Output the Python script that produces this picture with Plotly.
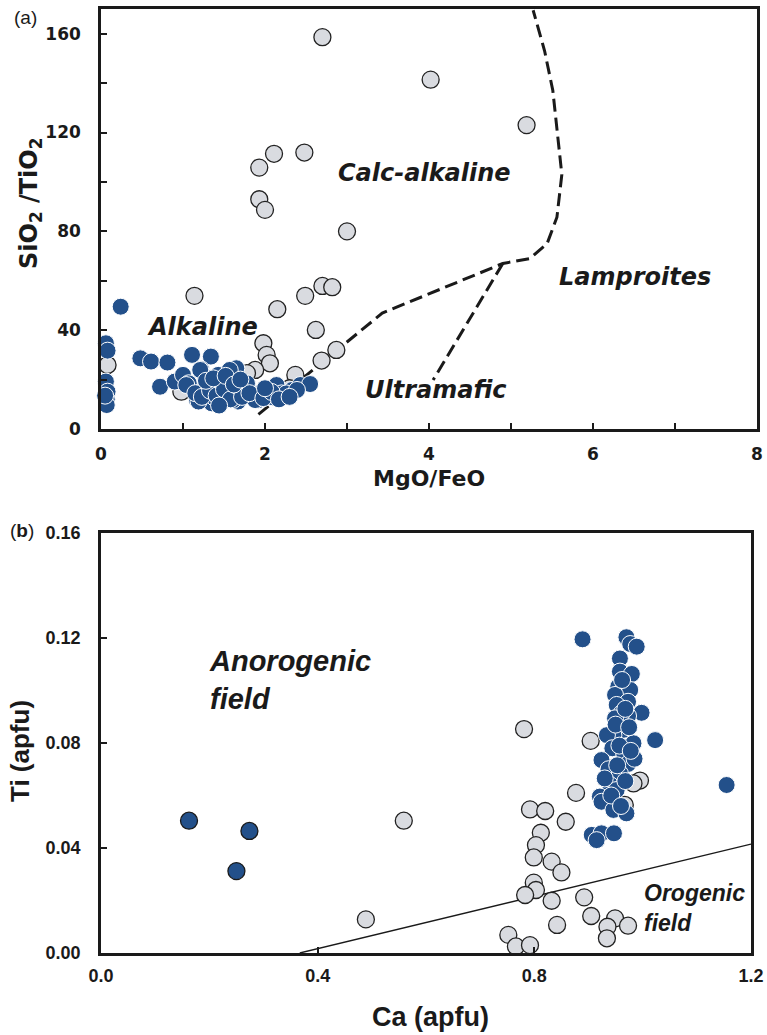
import plotly.graph_objects as go

W, H = 767, 1035

# ---------------- Panel (a) data ----------------
a_gray_x = [2.70, 4.02, 5.19, 2.11, 2.48, 1.93, 1.93, 2.00, 3.00, 1.14, 2.49, 2.15, 2.70, 2.82,
            2.62, 1.98, 2.02, 2.06, 2.87, 2.69, 1.88, 1.78, 2.37, 0.08, 0.98, 1.40, 1.60, 2.30]
a_gray_y = [158.6, 141.4, 123.0, 111.4, 111.9, 105.8, 93.0, 88.7, 80.0, 53.9, 53.9, 48.5, 57.9, 57.4,
            40.1, 34.7, 30.0, 26.6, 32.0, 27.7, 23.9, 22.6, 21.9, 25.9, 15.1, 14.0, 20.0, 16.5]

a_blue_x = [0.24, 0.06, 0.08, 0.06, 0.08, 0.07, 0.07, 0.05,
            0.48, 0.61, 0.81, 0.72, 0.90, 1.11, 1.34, 1.22, 1.65, 1.00, 1.07, 1.43, 1.25, 1.45,
            1.55, 1.17, 1.35, 1.53, 1.74, 1.67, 1.84, 1.96, 1.92, 2.04, 2.14, 2.20, 2.33, 2.43, 2.55,
            1.19, 1.30, 1.39, 1.60, 1.27, 1.57, 1.78, 1.61, 1.88, 2.26, 2.39, 1.04, 1.21, 1.47, 2.10,
            1.15, 1.23, 1.33, 1.41, 1.50, 1.58, 1.66, 1.72, 1.81, 1.98, 2.08, 2.17, 1.28, 1.37, 1.52,
            1.62, 1.70, 1.44, 2.30, 2.00]
a_blue_y = [49.5, 34.7, 31.7, 19.2, 15.1, 12.0, 9.7, 13.5,
            28.6, 27.3, 26.9, 17.1, 19.2, 30.0, 29.3, 24.2, 24.6, 21.9, 18.5, 21.9, 15.8, 17.1,
            19.8, 11.7, 10.4, 11.7, 15.8, 11.1, 13.1, 15.1, 11.7, 13.8, 17.8, 14.4, 15.8, 17.8, 18.2,
            11.1, 18.0, 12.5, 14.0, 21.2, 23.9, 18.5, 11.7, 11.7, 14.4, 15.8, 17.8, 23.9, 15.0, 12.8,
            14.5, 13.0, 15.5, 13.5, 16.0, 12.0, 17.5, 13.0, 14.5, 12.5, 15.0, 12.0, 19.5, 20.5, 21.5,
            18.0, 20.0, 9.5, 13.0, 16.5]

# boundary lines (a)
a_main_x = [1.92, 3.43, 4.90, 5.23, 5.44, 5.56, 5.62, 5.57, 5.51, 5.41, 5.27]
a_main_y = [5.9, 46.9, 67.0, 69.0, 75.0, 85.7, 103.0, 119.6, 137.0, 153.0, 169.5]
a_ultra_x = [4.90, 4.05]
a_ultra_y = [67.0, 19.8]

# ---------------- Panel (b) data ----------------
b_gray_x = [0.781, 0.904, 0.995, 0.983, 0.877, 0.792, 0.820, 0.858, 0.812, 0.803, 0.799, 0.832,
            0.850, 0.799, 0.803, 0.783, 0.832, 0.892, 0.905, 0.842, 0.949, 0.935, 0.973, 0.934,
            0.752, 0.766, 0.792, 0.967, 0.559, 0.489]
b_gray_y = [0.0853, 0.0808, 0.0657, 0.0646, 0.0610, 0.0547, 0.0541, 0.0500, 0.0458, 0.0411, 0.0364, 0.0348,
            0.0307, 0.0268, 0.0240, 0.0221, 0.0199, 0.0212, 0.0141, 0.0107, 0.0132, 0.0100, 0.0104, 0.0056,
            0.0069, 0.0025, 0.0030, 0.0564, 0.0504, 0.0128]

b_blue_x = [0.889, 0.970, 0.977, 0.989, 0.958, 0.958, 0.980, 0.955, 0.977, 0.949, 0.973, 0.952,
            0.998, 0.973, 0.961, 0.949, 0.964, 0.946, 0.934, 1.023, 0.983, 0.944, 0.966, 0.924,
            0.973, 0.937, 0.958, 0.940, 1.155, 0.952, 0.921, 0.924, 0.946, 0.970, 0.906, 0.924,
            0.947, 0.915,
            0.962, 0.968, 0.950, 0.975, 0.957, 0.985, 0.953, 0.930, 0.968, 0.942, 0.960, 0.978]
b_blue_y = [0.1195, 0.1203, 0.1177, 0.1167, 0.1122, 0.1072, 0.1063, 0.1015, 0.1002, 0.0983, 0.0957, 0.0945,
            0.0915, 0.0903, 0.0913, 0.0894, 0.0850, 0.0830, 0.0830, 0.0811, 0.0799, 0.0780, 0.0758, 0.0735,
            0.0720, 0.0700, 0.0684, 0.0640, 0.0640, 0.0621, 0.0596, 0.0576, 0.0545, 0.0532, 0.0450, 0.0456,
            0.0456, 0.0430,
            0.1040, 0.0930, 0.0870, 0.0860, 0.0790, 0.0740, 0.0715, 0.0665, 0.0655, 0.0600, 0.0560, 0.0770]

b_blue2_x = [0.1625, 0.274, 0.250]
b_blue2_y = [0.0504, 0.0465, 0.0312]

b_line_x = [0.367, 1.2]
b_line_y = [0.0, 0.0415]

GRAY = "#d9dbe0"
BLUE = "#23508a"
INK = "#1a1a1a"
FA = "DejaVu Sans, Verdana, sans-serif"          # panel (a) text (wide)
FB = "Liberation Sans, Arial, sans-serif"        # panel (b) text
MS = 17

fig = go.Figure()

# panel a
fig.add_trace(go.Scatter(x=a_main_x, y=a_main_y, mode="lines", xaxis="x", yaxis="y",
                         line=dict(color=INK, width=3, dash="13px,6px"), hoverinfo="skip"))
fig.add_trace(go.Scatter(x=a_ultra_x, y=a_ultra_y, mode="lines", xaxis="x", yaxis="y",
                         line=dict(color=INK, width=3, dash="13px,6px"), hoverinfo="skip"))
fig.add_trace(go.Scatter(x=a_gray_x, y=a_gray_y, mode="markers", xaxis="x", yaxis="y",
                         marker=dict(size=MS, color=GRAY, line=dict(color="#222", width=1.3))))
fig.add_trace(go.Scatter(x=a_blue_x, y=a_blue_y, mode="markers", xaxis="x", yaxis="y",
                         marker=dict(size=MS, color=BLUE, line=dict(color="white", width=1))))

# panel b
fig.add_trace(go.Scatter(x=b_line_x, y=b_line_y, mode="lines", xaxis="x2", yaxis="y2",
                         line=dict(color=INK, width=1.4), hoverinfo="skip"))
fig.add_trace(go.Scatter(x=b_gray_x, y=b_gray_y, mode="markers", xaxis="x2", yaxis="y2",
                         marker=dict(size=MS, color=GRAY, line=dict(color="#222", width=1.3))))
fig.add_trace(go.Scatter(x=b_blue_x, y=b_blue_y, mode="markers", xaxis="x2", yaxis="y2",
                         marker=dict(size=MS, color=BLUE, line=dict(color="white", width=1))))
fig.add_trace(go.Scatter(x=b_blue2_x, y=b_blue2_y, mode="markers", xaxis="x2", yaxis="y2",
                         marker=dict(size=MS, color=BLUE, line=dict(color=INK, width=1.3))))

for tr in fig.data:
    tr.cliponaxis = False


def axis(font_family, size):
    return dict(showline=True, linecolor=INK, linewidth=2.5, mirror=True, showgrid=False,
                zeroline=False, ticks="inside", ticklen=6, tickwidth=2, tickcolor=INK,
                automargin=False,
                tickfont=dict(family=font_family, size=size, color=INK, weight="bold"))


minor_a = dict(ticks="inside", ticklen=6, tickwidth=2, tickcolor=INK)

fig.update_layout(
    template="none",
    width=W, height=H, margin=dict(l=0, r=0, t=0, b=0, autoexpand=False),
    paper_bgcolor="white", plot_bgcolor="white", showlegend=False,
    xaxis=dict(domain=[101 / W, 757 / W], anchor="y", range=[0, 8], tickvals=[0, 2, 4, 6, 8],
               minor=dict(tickvals=[1, 3, 5, 7], **minor_a),
               ticklabelstandoff=8, **axis(FA, 17)),
    yaxis=dict(domain=[1 - 429 / H, 1 - 9 / H], anchor="x", range=[0, 170], tickvals=[0, 40, 80, 120, 160],
               minor=dict(tickvals=[20, 60, 100, 140], **minor_a),
               ticklabelstandoff=14, **axis(FA, 17)),
    xaxis2=dict(domain=[101 / W, 751 / W], anchor="y2", range=[0, 1.2], tickvals=[0, 0.4, 0.8, 1.2],
                tickformat=".1f", ticklabelstandoff=5, **axis(FB, 18)),
    yaxis2=dict(domain=[1 - 953 / H, 1 - 533 / H], anchor="x2", range=[0, 0.16],
                tickvals=[0, 0.04, 0.08, 0.12, 0.16], tickformat=".2f", ticklabelstandoff=14, **axis(FB, 18)),
)

labA = dict(family=FA, size=24, color=INK)
ann = []
# region labels (a)
ann += [
    dict(x=3.95, y=103.7, xref="x", yref="y", text="<b><i>Calc-alkaline</i></b>", showarrow=False, font=labA),
    dict(x=1.24, y=41.4, xref="x", yref="y", text="<b><i>Alkaline</i></b>", showarrow=False, font=labA),
    dict(x=6.51, y=61.7, xref="x", yref="y", text="<b><i>Lamproites</i></b>", showarrow=False, font=labA),
    dict(x=4.09, y=15.8, xref="x", yref="y", text="<b><i>Ultramafic</i></b>", showarrow=False, font=labA),
]
# region labels (b)
ann += [
    dict(x=0.195, y=0.104, xref="x2", yref="y2", text="<b><i>Anorogenic<br>field</i></b>", showarrow=False,
         xanchor="left", yanchor="middle", align="left", font=dict(family=FB, size=29, color=INK)),
    dict(x=0.998, y=0.0171, xref="x2", yref="y2", text="<b><i>Orogenic<br>field</i></b>", showarrow=False,
         xanchor="left", yanchor="middle", align="left", font=dict(family=FB, size=23, color=INK)),
]
# axis titles and panel letters
C = dict(xref="paper", yref="paper", showarrow=False, xanchor="center", yanchor="middle")
ann += [
    dict(x=429 / W, y=1 - 478 / H, text="<b>MgO/FeO</b>", font=dict(family=FA, size=22, color=INK), **C),
    dict(x=30 / W, y=1 - 204 / H, text="<b>SiO<sub>2</sub> /TiO<sub>2</sub></b>",
         textangle=-90, font=dict(family=FA, size=24, color=INK), **C),
    dict(x=20 / W, y=1 - 751 / H, text="<b>Ti (apfu)</b>",
         textangle=-90, font=dict(family=FB, size=26, color=INK), **C),
    dict(x=430 / W, y=1 - 1017 / H, text="<b>Ca (apfu)</b>", font=dict(family=FB, size=27, color=INK), **C),
    dict(x=25 / W, y=1 - 17 / H, text="(a)", font=dict(family=FB, size=19, color=INK), **C),
    dict(x=22 / W, y=1 - 530 / H, text="(<b>b</b>)", font=dict(family=FB, size=19, color=INK), **C),
]
fig.update_layout(annotations=ann)

fig.write_html("out.html")
